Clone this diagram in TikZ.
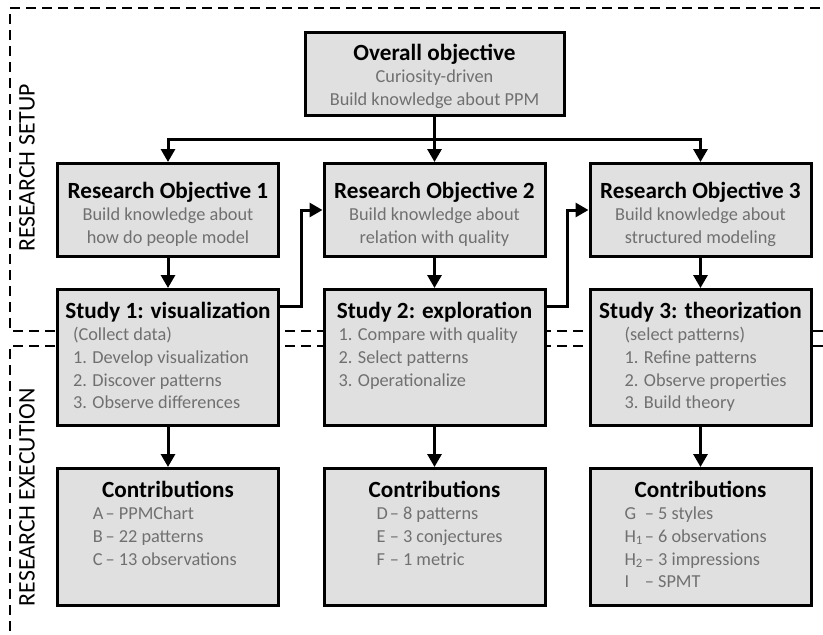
\documentclass[tikz,border=0pt]{standalone}
\usepackage{fontspec}
\setmainfont{Carlito}
\usetikzlibrary{arrows.meta,calc}

\definecolor{boxgray}{RGB}{224,224,224}
\definecolor{txtgray}{RGB}{112,112,112}
\newcommand{\titlefont}{\fontsize{23.2}{26}\selectfont\bfseries}
\newcommand{\bodyfont}{\fontsize{18.3}{22.7}\selectfont\color{txtgray}}
% width, height, first baseline, title, body
\newcommand{\boxtext}[5]{\parbox[c][#2][t]{#1}{\centering{\titlefont\rule{0pt}{#3}#4\par}{\bodyfont #5\par}}}

\tikzset{
	box/.style={draw,line width=3pt,fill=boxgray,inner sep=0pt},
	conn/.style={line width=3pt,-{Triangle[length=13pt,width=14pt]}},
	frame/.style={line width=2pt,dash pattern=on 10pt off 6pt},
	sidelabel/.style={rotate=90,font=\fontsize{23.8}{26}\selectfont}
}

\begin{document}
\begin{tikzpicture}[x=1pt,y=-1pt]
	\useasboundingbox (0,0) rectangle (823,635);

	\draw[frame] (823,331) -- (10,331) -- (10,8) -- (823,8);
	\draw[frame] (823,346) -- (10,346) -- (10,635);
	\node[sidelabel] (lsetup) at (27,168) {RESEARCH SETUP};
	\node[sidelabel] (lexec) at (27,497) {RESEARCH EXECUTION};

	\node[box] (ov) at (434.5,74) {\boxtext{259pt}{83pt}{27.5pt}{Overall objective}{Curiosity-driven\\Build knowledge about PPM}};

	\node[box] (ro1) at (168,210) {\boxtext{221pt}{93pt}{34.5pt}{Research Objective 1}{Build knowledge about\\how do people model}};
	\node[box] (ro2) at (434.5,210) {\boxtext{221pt}{93pt}{34.5pt}{Research Objective 2}{Build knowledge about\\relation with quality}};
	\node[box] (ro3) at (700.5,210) {\boxtext{221pt}{93pt}{34.5pt}{Research Objective 3}{Build knowledge about\\structured modeling}};

	\node[box] (st1) at (168,357.5) {\boxtext{221pt}{136pt}{28.5pt}{Study 1: visualization}{\raggedright\hspace*{15.5pt}\begin{tabular}[t]{@{}l@{}}(Collect data)\\1. Develop visualization\\2. Discover patterns\\3. Observe differences\end{tabular}}};
	\node[box] (st2) at (434.5,357.5) {\boxtext{221pt}{136pt}{28.5pt}{Study 2: exploration}{\raggedright\hspace*{14.5pt}\begin{tabular}[t]{@{}l@{}}1. Compare with quality\\2. Select patterns\\3. Operationalize\end{tabular}}};
	\node[box] (st3) at (700.5,357.5) {\boxtext{221pt}{136pt}{28.5pt}{Study 3: theorization}{\raggedright\hspace*{34.5pt}\begin{tabular}[t]{@{}l@{}}(select patterns)\\1. Refine patterns\\2. Observe properties\\3. Build theory\end{tabular}}};

	\node[box] (co1) at (168,537) {\boxtext{221pt}{137pt}{28.5pt}{Contributions}{\raggedright\hspace*{35.5pt}\begin{tabular}[t]{@{}l@{\hspace{2pt}}l@{}}A & – PPMChart\\B & – 22 patterns\\C & – 13 observations\end{tabular}}};
	\node[box] (co2) at (434.5,537) {\boxtext{221pt}{137pt}{28.5pt}{Contributions}{\raggedright\hspace*{52.5pt}\begin{tabular}[t]{@{}l@{\hspace{2pt}}l@{}}D & – 8 patterns\\E & – 3 conjectures\\F & – 1 metric\end{tabular}}};
	\node[box] (co3) at (700.5,537) {\boxtext{221pt}{137pt}{28.5pt}{Contributions}{\raggedright\hspace*{34.5pt}\begin{tabular}[t]{@{}l@{\hspace{2pt}}l@{}}G & – 5 styles\\H\textsubscript{1} & – 6 observations\\H\textsubscript{2} & – 3 impressions\\I & – SPMT\end{tabular}}};

	% top level split
	\coordinate (split) at ($(ov.south)!0.5!(ro2.north)$);
	\draw[conn] (ov.south) -- (ro2.north);
	\draw[conn] (split) -| (ro1.north);
	\draw[conn] (split) -| (ro3.north);

	\draw[conn] (ro1) -- (st1);
	\draw[conn] (ro2) -- (st2);
	\draw[conn] (ro3) -- (st3);
	\draw[conn] (st1) -- (co1);
	\draw[conn] (st2) -- (co2);
	\draw[conn] (st3) -- (co3);

	% study feeds next objective
	\draw[conn] ([yshift=-18pt]st1.north east) -- ++(21pt,0) |- (ro2.west);
	\draw[conn] ([yshift=-18pt]st2.north east) -- ++(21pt,0) |- (ro3.west);
\end{tikzpicture}
\end{document}
